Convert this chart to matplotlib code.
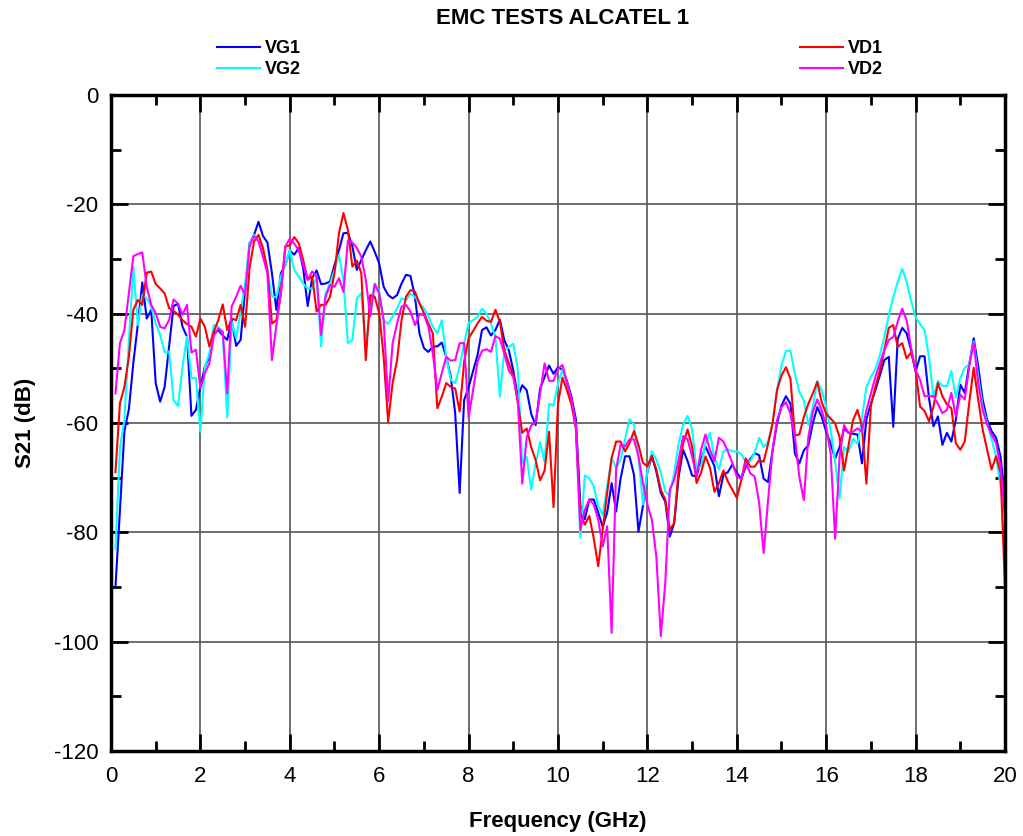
import matplotlib
matplotlib.use("Agg")
import matplotlib.pyplot as plt
from matplotlib.ticker import MultipleLocator
import numpy as np

plt.rcParams['font.family'] = ['Liberation Sans', 'DejaVu Sans']
plt.rcParams['axes.unicode_minus'] = False

# frequency axis: 0.1 .. 20.0 GHz, 0.1 GHz step
freq = np.round(np.arange(1, 201) * 0.1, 1)

vg1 = [-90, -76, -61.5, -57.5, -49, -42, -34.3, -40.9, -39.3, -52.7,
       -56.1, -53.4, -46, -38.6, -38.2, -42.4, -44.2, -58.7, -57.6, -53.4,
       -49.7, -47.9, -43.6, -43.0, -44, -44.8, -41.2, -45.9, -44.8, -35.7,
       -27.1, -25.6, -23.2, -25.8, -27.0, -32.6, -39.3, -32.6, -31.1, -28.5,
       -29.2, -28.0, -31.7, -38.6, -33.5, -32.1, -34.6, -34.5, -34.1, -31.1,
       -28.4, -25.3, -25.2, -27.7, -32.0, -30.2, -28.4, -26.8, -28.7, -30.8,
       -35.1, -36.6, -37.2, -36.6, -34.5, -32.9, -33.1, -36.9, -43.6, -46.3,
       -47.0, -46.0, -46.0, -45.3, -47.9, -51.5, -58.2, -72.8, -55.8, -53.5,
       -50.5, -47.6, -43.0, -42.5, -44.0, -43.0, -41.1, -44.9, -46.7, -50.4,
       -55.2, -53.1, -54.0, -58.3, -60.4, -53.7, -51.6, -49.5, -51.0, -49.8,
       -50.3, -52.3, -55.2, -59.3, -75, -77.6, -74.0, -74.0, -76.4, -79.0,
       -76.4, -71.0, -76.2, -70.2, -66.1, -66.1, -69.5, -79.9, -75.2, -68.9,
       -66.1, -68.9, -72.8, -74.4, -80.8, -78.3, -69.8, -64.9, -67.0, -69.6,
       -69.8, -66.7, -64.3, -66.1, -67.9, -73.4, -69.5, -69.0, -67.6, -69.1,
       -70.2, -68.0, -66.6, -65.5, -65.9, -70.2, -70.8, -65.0, -60.1, -56.8,
       -55.1, -56.5, -65.6, -67.4, -65.0, -64.1, -60.1, -57.1, -58.9, -61.6,
       -63.8, -66.5, -64.4, -61.0, -61.8, -62.0, -62.1, -67.4, -59.3, -56.5,
       -54.0, -51.3, -48.5, -47.9, -60.7, -44.6, -42.6, -43.6, -46.7, -50.6,
       -47.8, -47.8, -55.5, -60.6, -58.8, -64.0, -61.8, -63.4, -59.4, -53.0,
       -54.5, -49.3, -44.5, -49.6, -55.7, -59.4, -61.5, -62.7, -66.1, -74]

vg2 = [-83, -64.6, -59.4, -44.8, -31.5, -42.1, -36.6, -37.2, -38.7, -41.8,
       -43.9, -47.1, -46.9, -55.8, -56.9, -49.7, -44.2, -51.8, -51.8, -61.6,
       -49.7, -47.3, -42.1, -42.4, -43.6, -59.0, -41.5, -44.5, -39.6, -34.5,
       -27.1, -25.6, -26.5, -29.0, -32.0, -36.9, -37.0, -33.2, -31.1, -28.4,
       -32.0, -33.2, -34.5, -35.4, -35.4, -33.2, -46.0, -36.3, -34.5, -32.0,
       -29.3, -33.8, -45.4, -44.8, -37.2, -36.3, -46.0, -39.0, -34.5, -36.0,
       -41.2, -41.9, -40.5, -39.0, -37.2, -37.5, -36.4, -36.9, -38.1, -39.0,
       -40.5, -42.4, -43.6, -41.2, -47.9, -52.1, -52.7, -49.7, -45.4, -41.7,
       -41.2, -40.6, -39.1, -40.0, -41.8, -44.3, -55.2, -46.7, -46.1, -45.5,
       -50.1, -67.4, -66.2, -72.2, -67.4, -63.5, -67.1, -56.5, -56.8, -52.8,
       -50.2, -52.7, -56.0, -60.6, -81.0, -69.6, -70.1, -71.6, -75.2, -76.8,
       -71.6, -66.4, -68.2, -66.7, -63.0, -59.3, -60.3, -66.1, -74.9, -68.8,
       -65.2, -66.7, -69.1, -72.5, -73.4, -69.1, -63.7, -60.3, -58.7, -61.2,
       -68.5, -67.9, -63.7, -61.8, -66.4, -68.5, -65.2, -64.8, -65.2, -65.2,
       -65.7, -67.2, -67.0, -65.4, -62.7, -64.4, -63.5, -60.1, -54.0, -49.5,
       -46.8, -46.8, -51.0, -54.3, -55.9, -60.4, -57.1, -52.3, -54.0, -57.1,
       -61.3, -67.1, -73.8, -64.4, -65.3, -62.9, -63.8, -59.2, -53.4, -51.6,
       -50.1, -47.6, -44.3, -40.3, -37.0, -34.2, -31.8, -34.2, -37.6, -40.7,
       -41.9, -43.0, -48.0, -55.2, -52.3, -53.2, -53.3, -50.5, -55.4, -51.8,
       -49.9, -49.3, -45.1, -51.5, -57.0, -60.0, -63.0, -66.1, -71.6, -73.4]

vd1 = [-69, -56.4, -53.4, -47.9, -39.3, -37.5, -38.4, -32.5, -32.3, -34.6,
       -35.4, -36.3, -39.0, -39.5, -40.2, -41.2, -41.9, -42.4, -44.2, -40.9,
       -42.4, -46.0, -43.3, -41.2, -38.3, -43.0, -40.9, -41.2, -38.4, -42.4,
       -31.7, -26.8, -25.6, -28.0, -32.0, -41.8, -41.2, -36.3, -27.7, -27.5,
       -26.0, -27.1, -30.2, -33.8, -33.2, -39.6, -38.4, -38.4, -36.9, -32.6,
       -25.3, -21.6, -24.7, -31.4, -30.3, -32.6, -48.5, -36.6, -36.9, -39.9,
       -47.9, -59.8, -52.7, -48.5, -41.2, -36.9, -35.7, -36.0, -38.1, -39.9,
       -41.8, -43.6, -57.3, -55.2, -52.7, -53.4, -53.7, -57.9, -48.8, -44.5,
       -43.2, -41.8, -40.6, -41.3, -41.5, -39.3, -41.5, -46.7, -49.1, -51.3,
       -56.2, -61.8, -61.0, -64.4, -66.8, -70.5, -68.7, -61.6, -75.4, -56.5,
       -51.7, -54.0, -56.6, -61.0, -76.5, -78.6, -77.0, -81.1, -86.2, -79.5,
       -72.8, -66.4, -63.4, -63.4, -65.2, -63.7, -61.5, -64.0, -67.3, -67.9,
       -66.0, -68.5, -72.2, -74.0, -79.5, -78.3, -68.5, -63.7, -61.2, -64.3,
       -71.0, -69.1, -66.1, -68.2, -72.6, -71.0, -68.7, -70.7, -72.2, -73.7,
       -70.5, -66.5, -68.0, -68.0, -66.8, -67.1, -63.8, -60.1, -54.0, -51.3,
       -49.8, -51.9, -62.3, -62.1, -58.9, -56.5, -54.6, -52.5, -56.2, -58.3,
       -59.2, -60.1, -62.6, -68.7, -64.1, -59.5, -57.6, -60.7, -71.1, -56.8,
       -53.4, -50.4, -46.7, -42.6, -42.1, -46.1, -45.4, -48.2, -47.1, -50.3,
       -57.0, -57.8, -59.7, -57.0, -52.7, -55.1, -56.6, -57.3, -63.7, -64.9,
       -63.4, -56.3, -49.9, -55.7, -61.2, -64.9, -68.5, -66.1, -69.1, -89.9]

vd2 = [-54.6, -45.4, -43.0, -36.3, -29.5, -29.1, -28.8, -35.1, -38.4, -39.9,
       -42.4, -42.7, -41.2, -37.4, -38.2, -40.2, -38.4, -47.1, -46.6, -53.7,
       -50.9, -49.1, -44.1, -42.7, -43.3, -54.6, -38.7, -36.9, -34.9, -36.6,
       -27.7, -25.8, -26.8, -29.6, -32.6, -48.5, -42.1, -36.3, -27.7, -26.3,
       -27.2, -28.4, -31.0, -33.8, -32.3, -33.2, -43.9, -36.9, -34.8, -35.1,
       -33.5, -36.0, -26.6, -27.0, -28.0, -29.6, -33.8, -40.5, -34.6, -36.3,
       -41.2, -56.1, -45.4, -41.8, -38.7, -38.4, -39.6, -42.1, -40.2, -40.2,
       -42.4, -47.3, -54.0, -50.9, -47.9, -48.6, -48.5, -45.4, -45.4, -59.0,
       -54.0, -48.8, -46.8, -46.5, -47.0, -44.1, -44.6, -47.3, -50.4, -51.6,
       -55.9, -71.1, -62.6, -60.5, -59.8, -54.6, -49.1, -52.3, -52.3, -50.1,
       -49.4, -52.7, -55.7, -60.6, -79.5, -75.9, -74.0, -74.9, -77.7, -82.6,
       -78.9, -98.4, -68.5, -64.0, -64.3, -63.0, -63.0, -66.1, -71.0, -74.9,
       -77.7, -84.4, -99.0, -89.3, -72.2, -70.4, -66.7, -62.4, -63.0, -66.1,
       -69.8, -64.9, -62.1, -64.9, -67.0, -62.7, -63.4, -65.2, -67.3, -69.8,
       -70.2, -67.2, -69.2, -69.8, -74.6, -83.8, -74.1, -65.0, -59.5, -57.1,
       -56.2, -58.3, -62.6, -69.9, -74.1, -62.6, -58.0, -55.7, -57.7, -60.7,
       -65.6, -81.2, -66.2, -60.4, -61.8, -61.6, -61.0, -61.6, -57.7, -54.6,
       -51.6, -49.1, -46.7, -44.8, -44.3, -41.5, -39.1, -41.2, -46.3, -50.3,
       -52.1, -55.1, -55.1, -55.1, -56.5, -58.2, -57.6, -54.5, -58.8, -54.8,
       -55.7, -49.6, -45.4, -52.7, -57.6, -60.3, -62.1, -63.7, -67.9, -77.1]

fig = plt.figure(figsize=(10.23, 8.36), dpi=100)
ax = fig.add_axes([0.1085, 0.1017, 0.8739, 0.7847])

l1, = ax.plot(freq, vg1, color='#0000ff', lw=1.5, label='VG1')
l2, = ax.plot(freq, vg2, color='#00ffff', lw=1.5, label='VG2')
l3, = ax.plot(freq, vd1, color='#ff0000', lw=1.5, label='VD1')
l4, = ax.plot(freq, vd2, color='#ff00ff', lw=1.5, label='VD2')

ax.set_xlim(0, 20)
ax.set_ylim(-120, 0)
ax.xaxis.set_major_locator(MultipleLocator(2))
ax.xaxis.set_minor_locator(MultipleLocator(1))
ax.yaxis.set_major_locator(MultipleLocator(20))
ax.yaxis.set_minor_locator(MultipleLocator(10))
ax.grid(True, which='major', color='#555555', lw=1.2)
ax.tick_params(which='both', direction='in', top=True, right=True, width=2)
ax.tick_params(which='major', length=12, labelsize=16)
ax.tick_params(axis='x', which='major', pad=11)
ax.tick_params(axis='y', which='major', pad=9)
ax.tick_params(which='minor', length=7)
for s in ax.spines.values():
    s.set_linewidth(2.5)

ax.set_xlabel('Frequency (GHz)', fontsize=16, fontweight='bold', labelpad=17)
ax.set_ylabel('S21 (dB)', fontsize=16, fontweight='bold', labelpad=13)
fig.text(0.55, 0.991, 'EMC TESTS ALCATEL 1', ha='center', va='top',
         fontsize=16, fontweight='bold')

leg_style = dict(loc='upper left', frameon=False,
                 prop={'weight': 'bold', 'size': 13},
                 handlelength=2.4, handletextpad=0.25, labelspacing=0.22,
                 borderpad=0, borderaxespad=0)
leg1 = fig.legend(handles=[l1, l2], bbox_to_anchor=(0.212, 0.952), **leg_style)
leg2 = fig.legend(handles=[l3, l4], bbox_to_anchor=(0.782, 0.952), **leg_style)

fig.savefig('out.png', dpi=100)
